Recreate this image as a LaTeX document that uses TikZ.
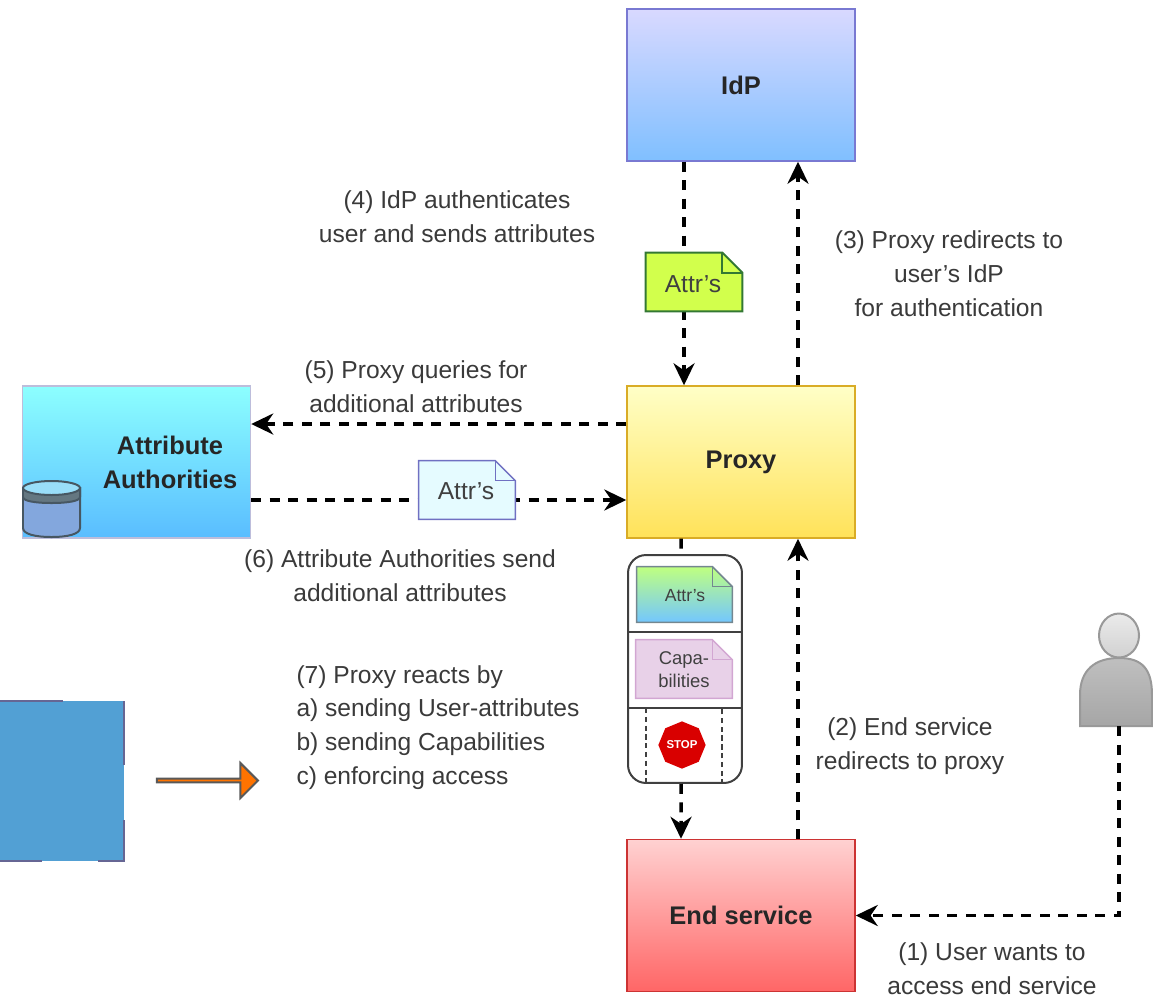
\documentclass[tikz,border=0pt]{standalone}
\usepackage{fontspec}
\setmainfont{Liberation Sans}
\usepackage{tikz}
\usetikzlibrary{shapes, shapes.arrows, shapes.geometric, arrows.meta, positioning}

\definecolor{labelgray}{HTML}{3A3A3A}
\tikzset{
 flow/.style={draw=black, line width=0.07cm, dash pattern=on 0.2cm off 0.17cm, -{Stealth[length=0.44cm, width=0.42cm]}},
 flowplain/.style={draw=black, line width=0.07cm, dash pattern=on 0.2cm off 0.17cm},
 partybox/.style={minimum width=4.56cm, minimum height=3.04cm, inner sep=0pt, font=\fontsize{14.5}{19.3}\selectfont\bfseries, text=black!85, align=center, line width=0.03cm},
 steplabel/.style={font=\fontsize{14}{19.3}\selectfont, text=labelgray, align=center, inner sep=0pt},
 notetext/.style={text=black!75, inner sep=0pt, align=center, font=\fontsize{14}{19.3}\selectfont},
 greennote/.style={fill=lime!50!green!40!yellow!70!white, draw=black!55!green!60!gray, line width=0.04cm},
 bluenote/.style={fill=blue!15!cyan!10!white, draw=blue!40!gray!80, line width=0.03cm},
 mixnote/.style={top color=green!50!yellow!50, bottom color=cyan!60!blue!55, draw=cyan!30!black!70, line width=0.03cm},
 purplenote/.style={fill=violet!18!white, draw=violet!35!white, line width=0.03cm},
}

% name, centre, width, height, style
\newcommand{\docnote}[5]{
 \node[minimum width=#3, minimum height=#4, inner sep=0pt] (#1) at #2 {};
 \filldraw[#5] (#1.north west) -- ([xshift=-0.4cm]#1.north east) -- ([yshift=-0.4cm]#1.north east) -- (#1.south east) -- (#1.south west) -- cycle;
 \draw[#5, shade=false, fill=none] ([xshift=-0.4cm]#1.north east) -- ([xshift=-0.4cm, yshift=-0.4cm]#1.north east) -- ([yshift=-0.4cm]#1.north east);
}

\begin{document}
\begin{tikzpicture}[x=0.02cm, y=-0.02cm]
\useasboundingbox (0,0) rectangle (1153,998);

% main boxes
\node[partybox, top color=blue!15!white, bottom color=blue!50!cyan!50!white, draw=blue!50!gray!70] (idp) at (741,85) {IdP};
\node[partybox, top color=yellow!22!white, bottom color=orange!35!yellow!65, draw=orange!50!yellow!70!gray] (proxy) at (741,462) {Proxy};
\node[partybox, top color=red!18!white, bottom color=red!60!white, draw=red!60!gray] (endservice) at (741,915.5) {End service};
\node[partybox, top color=cyan!45!white, bottom color=blue!40!cyan!65!white, draw=blue!30!gray!40] (authorities) at (136.5,462) {};

% database
\filldraw[fill=cyan!50!blue!50!white, draw=cyan!30!black, line width=0.04cm] (23,488) -- (23,528) .. controls (23,534) and (35,537) .. (51.5,537) .. controls (68,537) and (80,534) .. (80,528) -- (80,488) -- cycle;
\filldraw[fill=cyan!30!black!80, draw=cyan!30!black, line width=0.04cm] (23,488) -- (23,497) .. controls (23,501) and (35,503) .. (51.5,503) .. controls (68,503) and (80,501) .. (80,497) -- (80,488) -- cycle;
\filldraw[fill=cyan!40!white, draw=cyan!30!black, line width=0.04cm] (51.5,488) ellipse [x radius=0.57cm, y radius=0.14cm];
\node[font=\fontsize{14.5}{19.3}\selectfont\bfseries, text=black!85, align=center, inner sep=0pt] (authoritiestext) at (170,462) {Attribute\\Authorities};

% connectors
\draw[flow] ([xshift=-1.14cm]idp.south) -- ([xshift=-1.14cm]proxy.north);
\draw[flow] ([xshift=1.14cm]proxy.north) -- ([xshift=1.14cm]idp.south);
\draw[flow] ([yshift=0.76cm]proxy.west) -- ([yshift=0.76cm]authorities.east);
\draw[flow] ([yshift=-0.76cm]authorities.east) -- ([yshift=-0.76cm]proxy.west);
\draw[flow] ([xshift=1.14cm]endservice.north) -- ([xshift=1.14cm]proxy.south);

% user
\filldraw[top color=black!25, bottom color=black!35, draw=black!40, line width=0.04cm] (1080,726) -- (1080,695) .. controls (1080,670) and (1095,658) .. (1119,658) .. controls (1143,658) and (1152,670) .. (1152,695) -- (1152,726) -- cycle;
\node[ellipse, minimum width=0.8cm, minimum height=0.88cm, inner sep=0pt, top color=black!8, bottom color=black!18, draw=black!40, line width=0.04cm] (user) at (1119,635.5) {};
\coordinate (userfoot) at (1119,726);
\draw[flow] (userfoot) |- (endservice.east);

% capsule with the three reactions
\node[draw=black!75, rounded corners=0.36cm, minimum width=2.28cm, minimum height=4.56cm, inner sep=0pt, line width=0.04cm] (capsule) at (685,669) {};
\draw[flowplain] ([xshift=-1.2cm]proxy.south) -- ([xshift=-0.08cm]capsule.north);
\draw[flow] ([xshift=-0.08cm]capsule.south) -- ([xshift=-1.2cm]endservice.north);
\draw[black!75, line width=0.04cm] (628,632) -- (742,632);
\draw[black!75, line width=0.04cm] (628,708) -- (742,708);
\draw[black!75, densely dashed, line width=0.03cm] (646,708) rectangle (722,783);

% notes
\docnote{attrup}{(694,282)}{1.92cm}{1.16cm}{greennote}
\node[notetext] (attruptext) at (693,284) {Attr's};
\docnote{attrleft}{(467,490)}{1.92cm}{1.16cm}{bluenote}
\node[notetext] (attrlefttext) at (466,491) {Attr's};
\docnote{attrmix}{(684.5,594.5)}{1.9cm}{1.1cm}{mixnote}
\node[notetext, font=\fontsize{10}{13}\selectfont] (attrmixtext) at (685,596) {Attr's};
\docnote{capa}{(684,669)}{1.92cm}{1.16cm}{purplenote}
\node[notetext, font=\fontsize{10.5}{13}\selectfont] (capatext) at (684,670) {Capa-\\bilities};
\node[regular polygon, regular polygon sides=8, shape border rotate=22.5, fill=red!85!black, minimum size=0.9cm, inner sep=0pt, text=white, font=\fontsize{6.5}{7}\selectfont\bfseries] (stop) at (682,745) {STOP};

% the legend square and its arrow
\fill[blue!40!cyan!60!gray!85] (0,701) rectangle (124,861);
\draw[blue!30!black!60!white, line width=0.04cm] (0,701) -- (63,701) (124,701) -- (124,765) (124,820) -- (124,861) -- (98,861) (42,861) -- (0,861);
\node[single arrow, fill=orange!90!red, draw=black!65, line width=0.04cm, minimum height=2.02cm, minimum width=0.7cm, single arrow head extend=0.17cm, inner sep=0pt] (reactarrow) at (206.5,780.5) {};

% step labels
\node[steplabel] (stepone) at (992,969) {(1) User wants to\\access end service};
\node[steplabel] (steptwo) at (910,746) {(2) End service\\redirects to proxy};
\node[steplabel] (stepthree) at (949,274) {(3) Proxy redirects to\\user's IdP\\for authentication};
\node[steplabel] (stepfour) at (457,216.5) {(4) IdP authenticates\\user and sends attributes};
\node[steplabel] (stepfive) at (416,387) {(5) Proxy queries for\\additional attributes};
\node[steplabel] (stepsix) at (400,576) {(6) Attribute Authorities send\\additional attributes};
\node[steplabel, align=left] (stepseven) at (438,727.5) {(7) Proxy reacts by\\a) sending User-attributes\\b) sending Capabilities\\c) enforcing access};
\end{tikzpicture}
\end{document}
